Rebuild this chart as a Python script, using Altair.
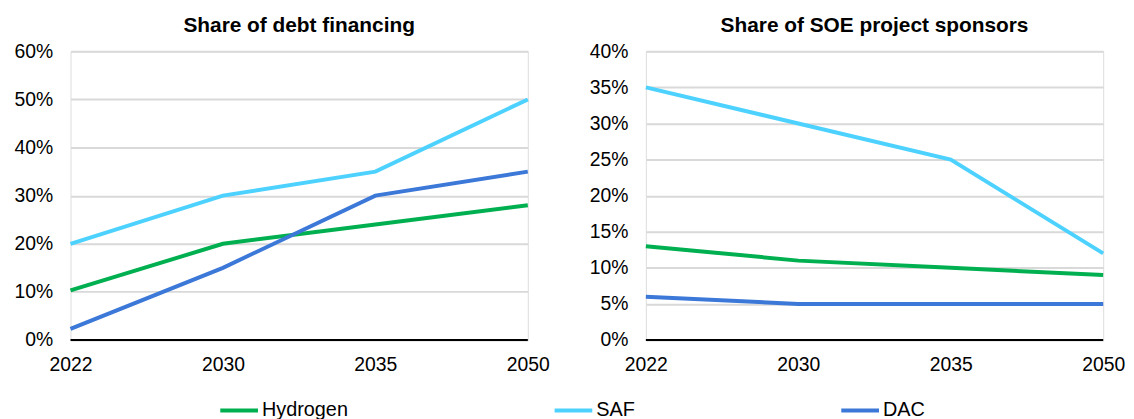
import altair as alt
import pandas as pd

years = ["2022", "2030", "2035", "2050"]
series = ["Hydrogen", "SAF", "DAC"]
colors = ["#00B050", "#4DD2FF", "#3C78D8"]

debt_hydrogen = [0.103, 0.20, 0.24, 0.28]
debt_saf = [0.20, 0.30, 0.35, 0.50]
debt_dac = [0.023, 0.15, 0.30, 0.35]

soe_hydrogen = [0.13, 0.11, 0.10, 0.09]
soe_saf = [0.35, 0.30, 0.25, 0.12]
soe_dac = [0.06, 0.05, 0.05, 0.05]

debt_ticks = [0, 0.1, 0.2, 0.3, 0.4, 0.5, 0.6]
soe_ticks = [0, 0.05, 0.10, 0.15, 0.20, 0.25, 0.30, 0.35, 0.40]


def long(vals_by_series):
    rows = []
    for s, vals in zip(series, vals_by_series):
        for y, v in zip(years, vals):
            rows.append({"year": y, "series": s, "value": v})
    return pd.DataFrame(rows)


debt_df = long([debt_hydrogen, debt_saf, debt_dac])
soe_df = long([soe_hydrogen, soe_saf, soe_dac])

FONT = "Liberation Sans"


def yaxis(ticks):
    return alt.Axis(title=None, values=ticks, format=".0%", domain=False,
                    ticks=False, labelPadding=18, labelFontSize=19.5,
                    labelColor="#000000", labelFont=FONT,
                    gridColor="#D9D9D9", gridWidth=2)


def panel(df, title, ymax, ticks):
    lines = alt.Chart(df).mark_line(strokeWidth=4).encode(
        x=alt.X("year:O", sort=years,
                scale=alt.Scale(type="point", padding=0),
                axis=alt.Axis(title=None, labelAngle=0, domain=False, ticks=False,
                              labelPadding=16, labelFontSize=19.5, labelColor="#000000",
                              labelFont=FONT, labelOverlap=False, labelFlush=False)),
        y=alt.Y("value:Q", scale=alt.Scale(domain=[0, ymax], nice=False), axis=yaxis(ticks)),
        color=alt.Color("series:N", scale=alt.Scale(domain=series, range=colors),
                        legend=alt.Legend(title=None, orient="none", direction="horizontal",
                                          legendX=149, legendY=341,
                                          symbolType="stroke", symbolSize=1444,
                                          symbolStrokeWidth=4, labelFontSize=20,
                                          labelFont=FONT, labelColor="#000000",
                                          labelOffset=2, columnPadding=200, padding=0)),
    )
    base = alt.Chart(pd.DataFrame({"v": [0]})).mark_rule(color="#000000", strokeWidth=2).encode(
        y=alt.Y("v:Q", axis=yaxis(ticks))
    )
    return alt.layer(base, lines).properties(
        width=461, height=291,
        title=alt.TitleParams(title, fontSize=21, fontWeight="bold", font=FONT,
                              color="#000000", baseline="bottom", offset=-16),
    )


left = panel(debt_df, "Share of debt financing", 0.6, debt_ticks)
right = panel(soe_df, "Share of SOE project sponsors", 0.4, soe_ticks)

chart = alt.hconcat(left, right, spacing=38).properties(
    padding={"left": 5, "top": 5, "right": 0, "bottom": 0}
).configure_view(stroke="transparent", strokeWidth=0).configure(background="#FFFFFF")

chart.save("out.html", embed_options={"renderer": "svg", "actions": False})
